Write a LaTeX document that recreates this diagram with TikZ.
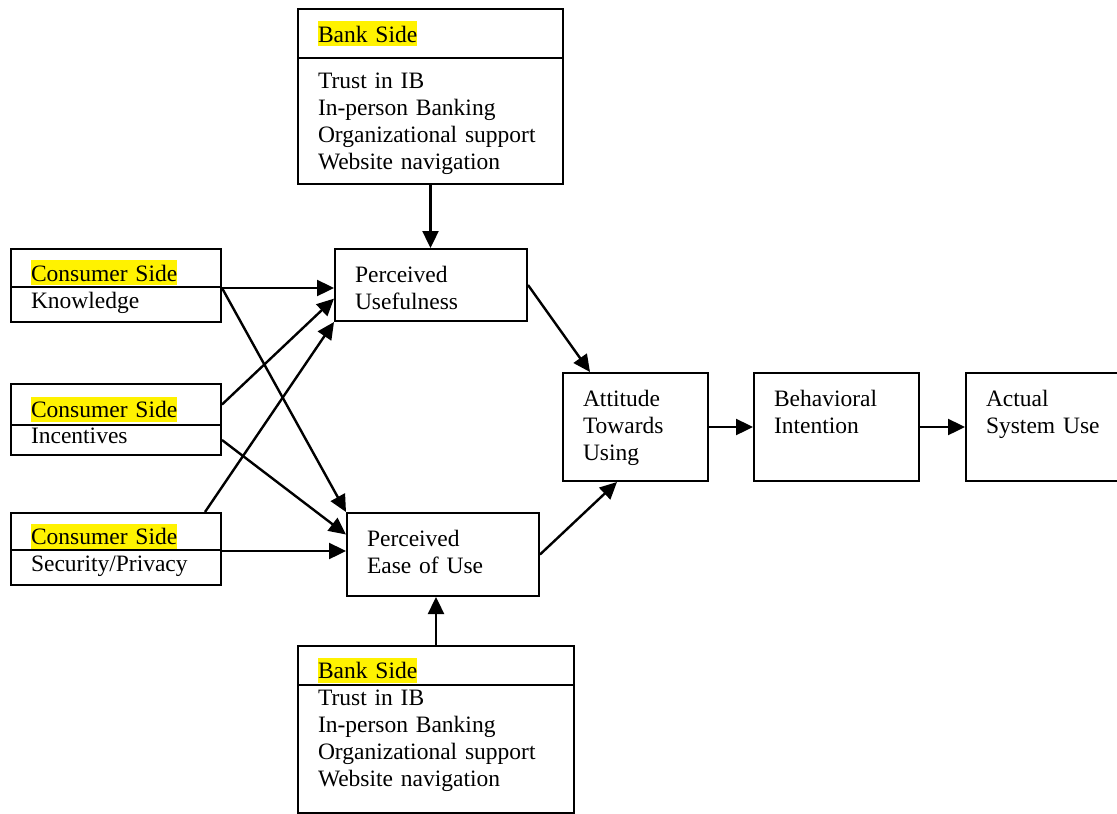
\documentclass[tikz,border=0pt]{standalone}
\usepackage{fontspec}
\setmainfont{Liberation Serif}
\usetikzlibrary{arrows.meta}
\newcommand{\hilite}[1]{{\setlength{\fboxsep}{0pt}\colorbox{yellow}{\rule[-4pt]{0pt}{25pt}#1}}}

\begin{document}
\begin{tikzpicture}[x=1pt,y=-1pt,
  every node/.style={font=\fontsize{23.5}{27}\selectfont},
  box/.style={draw,line width=2pt,anchor=north west,inner xsep=20pt,inner ysep=0pt,align=left},
  hdr/.style={text height=31pt,text depth=5pt},
  arr/.style={-{Triangle[length=17pt,width=16pt]},line width=2.4pt}]
\useasboundingbox (0,0) rectangle (1117,814);

% bank side, top
\node[box,minimum width=265pt,minimum height=49pt,text width=225pt] (bankTh) at (297,8) {\hilite{Bank Side}};
\node[box,minimum width=265pt,minimum height=126pt,text width=225pt,text height=16pt,text depth=82pt] (bankTb) at (297,57)
  {Trust in IB\\In-person Banking\\Organizational support\\Website navigation};

% consumer side
\node[box,hdr,minimum width=210pt,minimum height=38pt,text width=170pt] (con1h) at (10,248) {\hilite{Consumer Side}};
\node[box,minimum width=210pt,minimum height=35pt,text width=170pt,text height=14pt,text depth=7pt] (con1b) at (10,286) {Knowledge};
\node[box,hdr,minimum width=210pt,minimum height=41pt,text width=170pt] (con2h) at (10,383) {\hilite{Consumer Side}};
\node[box,minimum width=210pt,minimum height=30pt,text width=170pt,text height=14pt,text depth=7pt] (con2b) at (10,424) {Incentives};
\node[box,hdr,minimum width=210pt,minimum height=37pt,text width=170pt] (con3h) at (10,512) {\hilite{Consumer Side}};
\node[box,minimum width=210pt,minimum height=35pt,text width=170pt,text height=14pt,text depth=7pt] (con3b) at (10,549) {Security/Privacy};

% TAM core
\node[box,minimum width=192pt,minimum height=72pt,text width=152pt,text height=16pt,text depth=22pt] (pu) at (334,248) {Perceived\\Usefulness};
\node[box,minimum width=192pt,minimum height=83pt,text width=152pt,text height=16pt,text depth=33pt] (peu) at (346,512) {Perceived\\Ease of Use};
\node[box,minimum width=145pt,minimum height=108pt,text width=105pt,text height=16pt,text depth=58pt] (atu) at (562,372) {Attitude\\Towards\\Using};
\node[box,minimum width=165pt,minimum height=108pt,text width=125pt,text height=16pt,text depth=58pt] (bi) at (753,372) {Behavioral\\Intention};
\node[box,minimum width=180pt,minimum height=108pt,text width=140pt,text height=16pt,text depth=58pt] (asu) at (965,372) {Actual\\System Use};

% bank side, bottom
\node[box,hdr,minimum width=276pt,minimum height=39pt,text width=236pt] (bankBh) at (297,645) {\hilite{Bank Side}};
\node[box,minimum width=276pt,minimum height=128pt,text width=236pt,text height=16pt,text depth=104pt] (bankBb) at (297,684)
  {Trust in IB\\In-person Banking\\Organizational support\\Website navigation};

\draw[arr] (bankTb.south) -- (bankTb.south |- pu.north);
\draw[arr] (bankBh.north) -- (bankBh.north |- peu.south);
\draw[arr] (con1h.south east) -- (con1h.south east -| pu.west);
\draw[arr] (con1h.south east) -- (peu.north west);
\draw[arr] (con2h.east) -- (pu.188);
\draw[arr] ([xshift=-17pt]con3h.north east) -- (pu.south west);
\draw[arr] (con2b.east) -- ([yshift=20pt]peu.west);
\draw[arr] (con3h.south east) -- (con3h.south east -| peu.west);
\draw[arr] (pu.east) -- ([xshift=28pt]atu.north west);
\draw[arr] (peu.east) -- ([xshift=55pt]atu.south west);
\draw[arr] (atu.east) -- (bi.west);
\draw[arr] (bi.east) -- (asu.west);
\end{tikzpicture}
\end{document}
